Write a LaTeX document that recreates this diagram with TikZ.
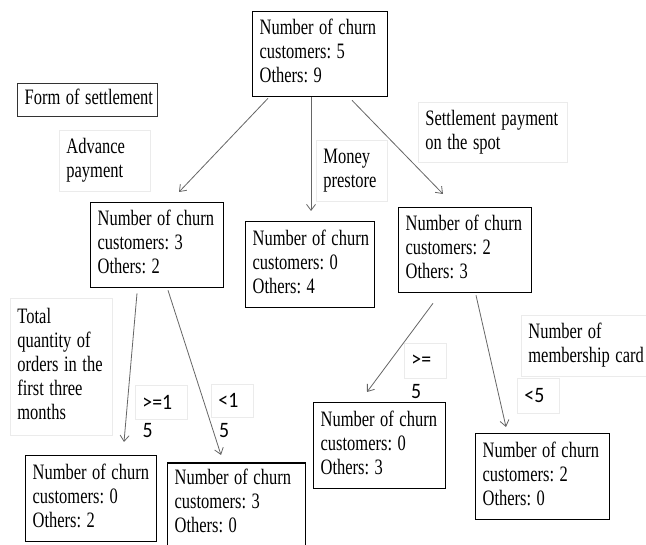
\documentclass[tikz,border=0pt]{standalone}
\usepackage{fontspec}
\setmainfont{Liberation Serif}
\newfontfamily\labfont{Carlito}
\usetikzlibrary{arrows.meta}
\newcommand\condtxt[1]{\scalebox{0.75}[1]{\begin{tabular}{@{}l@{}}#1\end{tabular}}}
\newcommand\symtext[1]{\scalebox{0.9}[1]{#1}}
\begin{document}
\frenchspacing
\begin{tikzpicture}[x=1pt,y=-1pt,
  tree/.style={draw=black, line width=1.3pt, anchor=north west, align=left,
    inner xsep=7pt, inner ysep=0pt, font=\fontsize{22}{24}\selectfont},
  formbox/.style={tree, draw=black!80},
  lbl/.style={draw=black!8, line width=0.8pt, anchor=north west, align=left,
    inner xsep=7pt, inner ysep=0pt, font=\fontsize{22}{24}\selectfont},
  sym/.style={draw=black!8, line width=0.8pt, anchor=north west, align=left,
    inner xsep=7pt, inner ysep=0pt, font=\labfont\fontsize{22}{24}\selectfont},
  symtxt/.style={anchor=west, inner sep=0pt, font=\labfont\fontsize{22}{24}\selectfont},
  arr/.style={draw=black!60, line width=0.8pt, -{Straight Barb[length=6pt,width=9pt]}}]
\useasboundingbox (0,0) rectangle (646,545);
\fill[white] (0,0) rectangle (646,545);

% tree boxes
\node[tree, text width=121pt, minimum height=85pt] (root) at (252,11) {\condtxt{Number of churn\\customers: 5\\Others: 9}};
\node[formbox, text width=126pt, minimum height=33pt] (form) at (17,83) {\condtxt{Form of settlement}};
\node[tree, text width=119pt, minimum height=85pt] (L1) at (90,202) {\condtxt{Number of churn\\customers: 3\\Others: 2}};
\node[tree, text width=115pt, minimum height=86pt] (M) at (245,221) {\condtxt{Number of churn\\customers: 0\\Others: 4}};
\node[tree, text width=119pt, minimum height=85pt] (R1) at (398,207) {\condtxt{Number of churn\\customers: 2\\Others: 3}};
\node[tree, text width=117pt, minimum height=86pt] (LL) at (25,455) {\condtxt{Number of churn\\customers: 0\\Others: 2}};
\node[tree, text width=124pt, minimum height=82pt] (LR) at (167,462.5) {\condtxt{Number of churn\\customers: 3\\Others: 0}};
\node[tree, text width=118pt, minimum height=86pt] (RL) at (313,402) {\condtxt{Number of churn\\customers: 0\\Others: 3}};
\node[tree, text width=120pt, minimum height=86pt] (RR) at (475,433) {\condtxt{Number of churn\\customers: 2\\Others: 0}};

% condition labels
\node[lbl, text width=77pt, minimum height=61pt] (adv) at (59,130) {\condtxt{Advance\\payment}};
\node[lbl, text width=57pt, minimum height=61pt] (money) at (316,140) {\condtxt{Money\\prestore}};
\node[lbl, text width=135pt, minimum height=60pt] (spot) at (418,102) {\condtxt{Settlement payment\\on the spot}};
\node[lbl, text width=88pt, minimum height=137pt] (total) at (10,298) {\condtxt{Total\\quantity of\\orders in the\\first three\\months}};
\node[lbl, text width=118pt, minimum height=61pt] (card) at (521,315) {\condtxt{Number of\\membership card}};

% symbolic labels
\node[sym, text width=38pt, minimum height=34pt] (ge1) at (135,385) {\symtext{>=1}};
\node[symtxt] (ge1b) at (142.5,431) {\symtext{5}};
\node[sym, text width=28pt, minimum height=33pt] (lt1) at (211,384) {\symtext{<1}};
\node[symtxt] (lt1b) at (219,431) {\symtext{5}};
\node[sym, text width=28pt, minimum height=35pt] (ge5) at (404,343) {\symtext{>=}};
\node[symtxt] (ge5b) at (411,392) {\symtext{5}};
\node[sym, text width=28pt, minimum height=35pt] (lt5) at (517,378) {\symtext{<5}};

% arrow ends
\coordinate (eL1) at (179,192);
\coordinate (eM) at (311,211);
\coordinate (eR1) at (443,194);
\coordinate (eLL) at (124,442);
\coordinate (eLR) at (221,455);
\coordinate (eRL) at (367,392);
\coordinate (eRR) at (506,427);

% connectors
\draw[arr] ([xshift=16pt,yshift=-1pt]root.south west) -- (eL1);
\draw[arr] ([xshift=59pt]root.south west) -- (eM);
\draw[arr] ([xshift=100pt,yshift=-3pt]root.south west) -- (eR1);
\draw[arr] ([xshift=47pt,yshift=-5pt]L1.south west) -- (eLL);
\draw[arr] ([xshift=78pt,yshift=-2pt]L1.south west) -- (eLR);
\draw[arr] ([xshift=35pt,yshift=-10pt]R1.south west) -- (eRL);
\draw[arr] ([xshift=78pt,yshift=-2pt]R1.south west) -- (eRR);
\end{tikzpicture}
\end{document}
